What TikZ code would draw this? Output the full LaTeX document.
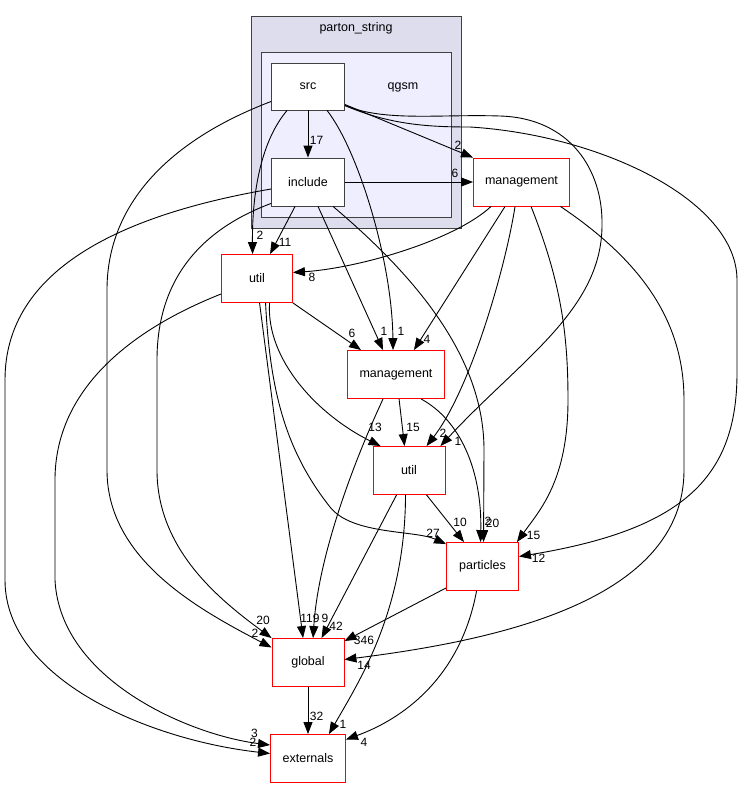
\documentclass[tikz,border=0pt]{standalone}
\usepackage{fontspec}
\setmainfont{Liberation Sans}
\usetikzlibrary{arrows.meta,calc}
\definecolor{clouter}{HTML}{DDDDEE}
\definecolor{clinner}{HTML}{EEEEFF}
\definecolor{frame}{HTML}{404040}
\begin{document}
\begin{tikzpicture}[x=1pt,y=-1pt,
  box/.style={draw=red, line width=0.9pt, fill=white, minimum height=48pt, inner sep=0pt, font=\fontsize{12.5}{15}\selectfont},
  dirbox/.style={box, draw=frame},
  lbl/.style={font=\fontsize{12}{14}\selectfont, inner sep=0pt},
  edge/.style={-{Triangle[length=12pt,width=9pt]}, line width=0.9pt},
  cluster/.style={draw=frame, line width=1pt}]
\useasboundingbox (0,0) rectangle (741,788);
% clusters
\path[cluster, fill=clouter] (251,16) rectangle (461,228);
\node[lbl, font=\fontsize{12.5}{15}\selectfont] (parton) at (356,28) {parton\_string};
\path[cluster, fill=clinner] (261,52) rectangle (451,217);
\node[lbl, font=\fontsize{12.5}{15}\selectfont] (qgsm) at (403,87) {qgsm};
% nodes
\node[dirbox, minimum width=73pt, minimum height=47pt] (src) at (308,86.5) {src};
\node[dirbox, minimum width=73pt] (inc) at (308,182) {include};
\node[box, minimum width=96pt] (mgmtA) at (521.5,182) {management};
\node[box, minimum width=71pt] (utilA) at (257,278.5) {util};
\node[box, minimum width=97pt] (mgmtB) at (396,374.5) {management};
\node[box, minimum width=72pt] (utilB) at (409,470.5) {util};
\node[box, minimum width=72pt] (part) at (482.5,566.5) {particles};
\node[box, minimum width=72pt] (glob) at (308,662.5) {global};
\node[box, minimum width=75pt] (ext) at (308,758.5) {externals};
% edges
\draw[edge] (src) -- (inc);
\draw[edge] ($(src.east)+(0,18)$) -- (mgmtA.north west);
\draw[edge] (inc) -- (mgmtA);
\draw[edge] ($(src.south west)+(16,0)$) .. controls (262,140) and (252,190) .. ($(utilA.north west)+(31.5,0)$);
\draw[edge] ($(inc.south west)+(24,0)$) -- ($(utilA.north west)+(49,0)$);
\draw[edge] ($(mgmtA.south west)+(18,0)$) .. controls (455,240) and (360,268) .. ($(utilA.east)+(0,-6)$);
\draw[edge] (utilA.south east) -- ($(mgmtB.north west)+(14,0)$);
\draw[edge] ($(inc.south west)+(47,0)$) -- ($(mgmtB.north west)+(36,0)$);
\draw[edge] ($(src.south west)+(56,0)$) .. controls (358,150) and (392,260) .. ($(mgmtB.north west)+(46,0)$);
\draw[edge] ($(mgmtA.south west)+(32,0)$) -- ($(mgmtB.north east)+(-31,0)$);
\draw[edge] ($(mgmtA.south west)+(42,0)$) .. controls (505,270) and (470,390) .. ($(utilB.north west)+(54,0)$);
\draw[edge] ($(src.east)+(0,19)$) .. controls (385,122) and (440,114) .. (500,116) .. controls (570,118) and (603,170) .. (602,225) .. controls (602,310) and (520,360) .. ($(utilB.north east)+(-5,0)$);
\draw[edge] ($(utilA.south west)+(48.5,0)$) .. controls (266,360) and (318,415) .. ($(utilB.north west)+(8,0)$);
\draw[edge] ($(mgmtB.south west)+(52,0)$) -- ($(utilB.north west)+(32,0)$);
\draw[edge] ($(utilB.south west)+(54,0)$) -- ($(part.north west)+(18,0)$);
\draw[edge] ($(utilA.south west)+(44.5,0)$) .. controls (270,390) and (285,450) .. (330,507) .. controls (352,535) and (415,530) .. ($(part.north west)+(0,2)$);
\draw[edge] ($(mgmtB.south west)+(74,0)$) .. controls (460,420) and (482,470) .. ($(part.north west)+(34.5,0)$);
\draw[edge] ($(inc.south west)+(62,0)$) .. controls (420,280) and (484,360) .. (484,450) -- ($(part.north west)+(37.5,0)$);
\draw[edge] ($(mgmtA.south west)+(58,0)$) .. controls (560,280) and (568,330) .. (568,400) .. controls (568,480) and (540,510) .. ($(part.north east)+(-2,0)$);
\draw[edge] ($(src.east)+(0,19)$) .. controls (390,125) and (430,127) .. (470,127) .. controls (600,135) and (737,200) .. (737,280) -- (737,373) .. controls (737,480) and (680,530) .. ($(part.east)+(0,-10)$);
\draw[edge] ($(mgmtA.south east)+(-9.5,0)$) .. controls (640,260) and (684,320) .. (684,400) -- (684,470) .. controls (684,600) and (500,640) .. ($(glob.east)+(0,-3)$);
\draw[edge] ($(src.west)+(0,15)$) .. controls (175,138) and (107,200) .. (107,290) -- (107,470) .. controls (107,560) and (200,610) .. ($(glob.west)+(0,-15)$);
\draw[edge] ($(inc.south west)+(0,-3)$) .. controls (200,230) and (157,280) .. (157,360) -- (157,470) .. controls (157,550) and (220,600) .. (glob.north west);
\draw[edge] ($(inc.west)+(0,7)$) .. controls (120,215) and (5,270) .. (5,380) -- (5,580) .. controls (5,680) and (150,740) .. ($(ext.west)+(0,-5)$);
\draw[edge] ($(utilA.west)+(0,15.5)$) .. controls (130,330) and (55,390) .. (55,480) -- (55,580) .. controls (60,680) and (190,735) .. ($(ext.west)+(0,-13.5)$);
\draw[edge] ($(utilA.south west)+(38.5,0)$) -- ($(glob.north west)+(31.5,0)$);
\draw[edge] ($(mgmtB.south west)+(36,0)$) .. controls (350,470) and (318,560) .. ($(glob.north west)+(41.5,0)$);
\draw[edge] ($(utilB.south west)+(24,0)$) -- ($(glob.north west)+(50,0)$);
\draw[edge] ($(part.south west)+(0,-3)$) -- ($(glob.north east)+(0,3)$);
\draw[edge] (glob) -- (ext);
\draw[edge] ($(utilB.south west)+(33,0)$) .. controls (405,610) and (360,680) .. ($(ext.north east)+(-17,0)$);
\draw[edge] ($(part.south west)+(30.5,0)$) .. controls (460,680) and (400,720) .. ($(ext.east)+(0,-19)$);
% labels
\node[lbl] (l1) at (316.5,140) {17};
\node[lbl] (l2) at (458,145) {2};
\node[lbl] (l3) at (455,173) {6};
\node[lbl] (l4) at (260,235) {2};
\node[lbl] (l5) at (285,242) {11};
\node[lbl] (l6) at (312,277) {8};
\node[lbl] (l7) at (352,333) {6};
\node[lbl] (l8) at (384,331) {1};
\node[lbl] (l9) at (401,331) {1};
\node[lbl] (l10) at (427,339) {4};
\node[lbl] (l11) at (375,427) {13};
\node[lbl] (l12) at (413,427) {15};
\node[lbl] (l13) at (443,433) {2};
\node[lbl] (l14) at (458,441) {1};
\node[lbl] (l15) at (460,522) {10};
\node[lbl] (l16) at (433,533) {27};
\node[lbl] (l17) at (488,521) {2};
\node[lbl] (l18) at (492.5,523) {20};
\node[lbl] (l19) at (533.5,535) {15};
\node[lbl] (l20) at (538.5,558) {12};
\node[lbl] (l21) at (263,620) {20};
\node[lbl] (l22) at (255,633) {2};
\node[lbl] (l23) at (310,618) {119};
\node[lbl] (l24) at (325,618) {9};
\node[lbl] (l25) at (336,626) {42};
\node[lbl] (l26) at (364,640) {346};
\node[lbl] (l27) at (364,665) {14};
\node[lbl] (l28) at (316.5,716) {32};
\node[lbl] (l29) at (343,724) {1};
\node[lbl] (l30) at (364,742) {4};
\node[lbl] (l31) at (254.5,733) {3};
\node[lbl] (l32) at (253,742) {2};
\end{tikzpicture}
\end{document}
